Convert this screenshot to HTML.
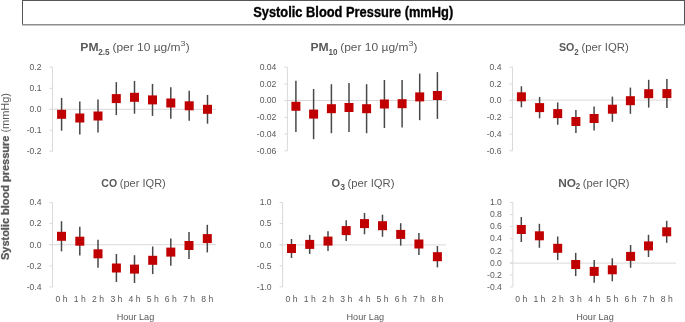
<!DOCTYPE html>
<html><head><meta charset="utf-8"><title>Systolic Blood Pressure</title>
<style>
html,body{margin:0;padding:0;background:#fff;}
body{width:685px;height:322px;overflow:hidden;}
svg{display:block;font-family:"Liberation Sans", sans-serif;will-change:transform;}
</style></head>
<body>
<svg width="685" height="322" viewBox="0 0 685 322">
<rect x="22" y="0" width="663" height="1" fill="#555"/>
<rect x="22" y="0" width="1" height="25" fill="#555"/>
<rect x="684" y="0" width="1" height="25" fill="#555"/>
<rect x="22" y="24" width="663" height="1" fill="#8e8e8e"/>
<rect x="22" y="25" width="663" height="1" fill="#c4c4c4"/>
<text x="253.2" y="16.8" font-size="14.4" font-weight="bold" fill="#000" stroke="#000" stroke-width="0.35" textLength="200" lengthAdjust="spacingAndGlyphs">Systolic Blood Pressure (mmHg)</text>
<line x1="52.5" y1="67.2" x2="52.5" y2="151.2" stroke="#d9d9d9" stroke-width="1"/>
<line x1="49.5" y1="67.2" x2="52.5" y2="67.2" stroke="#d9d9d9" stroke-width="1"/>
<text x="41.5" y="70.00" font-size="8.6" fill="#595959" text-anchor="end">0.2</text>
<line x1="49.5" y1="88.3" x2="52.5" y2="88.3" stroke="#d9d9d9" stroke-width="1"/>
<text x="41.5" y="91.10" font-size="8.6" fill="#595959" text-anchor="end">0.1</text>
<line x1="49.5" y1="109.3" x2="52.5" y2="109.3" stroke="#d9d9d9" stroke-width="1"/>
<text x="41.5" y="112.10" font-size="8.6" fill="#595959" text-anchor="end">0.0</text>
<line x1="49.5" y1="130.3" x2="52.5" y2="130.3" stroke="#d9d9d9" stroke-width="1"/>
<text x="41.5" y="133.10" font-size="8.6" fill="#595959" text-anchor="end">-0.1</text>
<line x1="49.5" y1="151.2" x2="52.5" y2="151.2" stroke="#d9d9d9" stroke-width="1"/>
<text x="41.5" y="154.00" font-size="8.6" fill="#595959" text-anchor="end">-0.2</text>
<line x1="49.5" y1="109.3" x2="216" y2="109.3" stroke="#d9d9d9" stroke-width="1"/>
<line x1="61.6" y1="97.90" x2="61.6" y2="130.70" stroke="#484848" stroke-width="1.5"/>
<line x1="79.8" y1="101.60" x2="79.8" y2="134.40" stroke="#484848" stroke-width="1.5"/>
<line x1="98" y1="99.60" x2="98" y2="132.40" stroke="#484848" stroke-width="1.5"/>
<line x1="116.3" y1="82.10" x2="116.3" y2="115.10" stroke="#484848" stroke-width="1.5"/>
<line x1="134.5" y1="80.90" x2="134.5" y2="113.70" stroke="#484848" stroke-width="1.5"/>
<line x1="152.5" y1="83.90" x2="152.5" y2="115.90" stroke="#484848" stroke-width="1.5"/>
<line x1="170.8" y1="87.20" x2="170.8" y2="118.80" stroke="#484848" stroke-width="1.5"/>
<line x1="189.2" y1="90.80" x2="189.2" y2="120.80" stroke="#484848" stroke-width="1.5"/>
<line x1="207.5" y1="94.90" x2="207.5" y2="123.70" stroke="#484848" stroke-width="1.5"/>
<rect x="57.10" y="109.80" width="9.0" height="9.0" fill="#c00000"/>
<rect x="75.30" y="113.50" width="9.0" height="9.0" fill="#c00000"/>
<rect x="93.50" y="111.50" width="9.0" height="9.0" fill="#c00000"/>
<rect x="111.80" y="94.10" width="9.0" height="9.0" fill="#c00000"/>
<rect x="130.00" y="92.80" width="9.0" height="9.0" fill="#c00000"/>
<rect x="148.00" y="95.40" width="9.0" height="9.0" fill="#c00000"/>
<rect x="166.30" y="98.50" width="9.0" height="9.0" fill="#c00000"/>
<rect x="184.70" y="101.30" width="9.0" height="9.0" fill="#c00000"/>
<rect x="203.00" y="104.80" width="9.0" height="9.0" fill="#c00000"/>
<line x1="287.4" y1="67.2" x2="287.4" y2="150.8" stroke="#d9d9d9" stroke-width="1"/>
<line x1="284.4" y1="67.2" x2="287.4" y2="67.2" stroke="#d9d9d9" stroke-width="1"/>
<text x="276.4" y="70.00" font-size="8.6" fill="#595959" text-anchor="end">0.04</text>
<line x1="284.4" y1="83.92" x2="287.4" y2="83.92" stroke="#d9d9d9" stroke-width="1"/>
<text x="276.4" y="86.72" font-size="8.6" fill="#595959" text-anchor="end">0.02</text>
<line x1="284.4" y1="100.64" x2="287.4" y2="100.64" stroke="#d9d9d9" stroke-width="1"/>
<text x="276.4" y="103.44" font-size="8.6" fill="#595959" text-anchor="end">0.00</text>
<line x1="284.4" y1="117.36" x2="287.4" y2="117.36" stroke="#d9d9d9" stroke-width="1"/>
<text x="276.4" y="120.16" font-size="8.6" fill="#595959" text-anchor="end">-0.02</text>
<line x1="284.4" y1="134.07999999999998" x2="287.4" y2="134.07999999999998" stroke="#d9d9d9" stroke-width="1"/>
<text x="276.4" y="136.88" font-size="8.6" fill="#595959" text-anchor="end">-0.04</text>
<line x1="284.4" y1="150.8" x2="287.4" y2="150.8" stroke="#d9d9d9" stroke-width="1"/>
<text x="276.4" y="153.60" font-size="8.6" fill="#595959" text-anchor="end">-0.06</text>
<line x1="284.5" y1="100.5" x2="446.6" y2="100.5" stroke="#d9d9d9" stroke-width="1"/>
<line x1="295.9" y1="80.70" x2="295.9" y2="131.90" stroke="#484848" stroke-width="1.5"/>
<line x1="313.6" y1="89.00" x2="313.6" y2="139.20" stroke="#484848" stroke-width="1.5"/>
<line x1="331.4" y1="84.20" x2="331.4" y2="133.20" stroke="#484848" stroke-width="1.5"/>
<line x1="349" y1="83.10" x2="349" y2="131.90" stroke="#484848" stroke-width="1.5"/>
<line x1="366.6" y1="84.20" x2="366.6" y2="133.20" stroke="#484848" stroke-width="1.5"/>
<line x1="384.4" y1="80.00" x2="384.4" y2="128.00" stroke="#484848" stroke-width="1.5"/>
<line x1="402.1" y1="79.90" x2="402.1" y2="127.50" stroke="#484848" stroke-width="1.5"/>
<line x1="419.7" y1="73.60" x2="419.7" y2="120.20" stroke="#484848" stroke-width="1.5"/>
<line x1="437.4" y1="72.10" x2="437.4" y2="118.90" stroke="#484848" stroke-width="1.5"/>
<rect x="291.40" y="101.80" width="9.0" height="9.0" fill="#c00000"/>
<rect x="309.10" y="109.60" width="9.0" height="9.0" fill="#c00000"/>
<rect x="326.90" y="104.20" width="9.0" height="9.0" fill="#c00000"/>
<rect x="344.50" y="103.00" width="9.0" height="9.0" fill="#c00000"/>
<rect x="362.10" y="104.20" width="9.0" height="9.0" fill="#c00000"/>
<rect x="379.90" y="99.50" width="9.0" height="9.0" fill="#c00000"/>
<rect x="397.60" y="99.20" width="9.0" height="9.0" fill="#c00000"/>
<rect x="415.20" y="92.40" width="9.0" height="9.0" fill="#c00000"/>
<rect x="432.90" y="91.00" width="9.0" height="9.0" fill="#c00000"/>
<line x1="512.5" y1="67.2" x2="512.5" y2="150.8" stroke="#d9d9d9" stroke-width="1"/>
<line x1="509.5" y1="67.2" x2="512.5" y2="67.2" stroke="#d9d9d9" stroke-width="1"/>
<text x="501.5" y="70.00" font-size="8.6" fill="#595959" text-anchor="end">0.4</text>
<line x1="509.5" y1="83.92" x2="512.5" y2="83.92" stroke="#d9d9d9" stroke-width="1"/>
<text x="501.5" y="86.72" font-size="8.6" fill="#595959" text-anchor="end">0.2</text>
<line x1="509.5" y1="100.64" x2="512.5" y2="100.64" stroke="#d9d9d9" stroke-width="1"/>
<text x="501.5" y="103.44" font-size="8.6" fill="#595959" text-anchor="end">0.0</text>
<line x1="509.5" y1="117.36" x2="512.5" y2="117.36" stroke="#d9d9d9" stroke-width="1"/>
<text x="501.5" y="120.16" font-size="8.6" fill="#595959" text-anchor="end">-0.2</text>
<line x1="509.5" y1="134.07999999999998" x2="512.5" y2="134.07999999999998" stroke="#d9d9d9" stroke-width="1"/>
<text x="501.5" y="136.88" font-size="8.6" fill="#595959" text-anchor="end">-0.4</text>
<line x1="509.5" y1="150.8" x2="512.5" y2="150.8" stroke="#d9d9d9" stroke-width="1"/>
<text x="501.5" y="153.60" font-size="8.6" fill="#595959" text-anchor="end">-0.6</text>
<line x1="509.5" y1="100.1" x2="671.6" y2="100.1" stroke="#d9d9d9" stroke-width="1"/>
<line x1="521.4" y1="86.30" x2="521.4" y2="107.30" stroke="#484848" stroke-width="1.5"/>
<line x1="539.6" y1="96.90" x2="539.6" y2="118.30" stroke="#484848" stroke-width="1.5"/>
<line x1="557.7" y1="102.40" x2="557.7" y2="124.80" stroke="#484848" stroke-width="1.5"/>
<line x1="575.9" y1="110.10" x2="575.9" y2="132.90" stroke="#484848" stroke-width="1.5"/>
<line x1="594.1" y1="106.40" x2="594.1" y2="130.60" stroke="#484848" stroke-width="1.5"/>
<line x1="612.4" y1="96.60" x2="612.4" y2="121.80" stroke="#484848" stroke-width="1.5"/>
<line x1="630.4" y1="87.60" x2="630.4" y2="113.80" stroke="#484848" stroke-width="1.5"/>
<line x1="648.7" y1="79.80" x2="648.7" y2="107.60" stroke="#484848" stroke-width="1.5"/>
<line x1="666.9" y1="79.10" x2="666.9" y2="108.10" stroke="#484848" stroke-width="1.5"/>
<rect x="516.90" y="92.30" width="9.0" height="9.0" fill="#c00000"/>
<rect x="535.10" y="103.10" width="9.0" height="9.0" fill="#c00000"/>
<rect x="553.20" y="109.10" width="9.0" height="9.0" fill="#c00000"/>
<rect x="571.40" y="117.00" width="9.0" height="9.0" fill="#c00000"/>
<rect x="589.60" y="114.00" width="9.0" height="9.0" fill="#c00000"/>
<rect x="607.90" y="104.70" width="9.0" height="9.0" fill="#c00000"/>
<rect x="625.90" y="96.20" width="9.0" height="9.0" fill="#c00000"/>
<rect x="644.20" y="89.20" width="9.0" height="9.0" fill="#c00000"/>
<rect x="662.40" y="89.10" width="9.0" height="9.0" fill="#c00000"/>
<line x1="52.5" y1="202.5" x2="52.5" y2="286.9" stroke="#d9d9d9" stroke-width="1"/>
<line x1="49.5" y1="202.5" x2="52.5" y2="202.5" stroke="#d9d9d9" stroke-width="1"/>
<text x="41.5" y="205.30" font-size="8.6" fill="#595959" text-anchor="end">0.4</text>
<line x1="49.5" y1="223.6" x2="52.5" y2="223.6" stroke="#d9d9d9" stroke-width="1"/>
<text x="41.5" y="226.40" font-size="8.6" fill="#595959" text-anchor="end">0.2</text>
<line x1="49.5" y1="244.7" x2="52.5" y2="244.7" stroke="#d9d9d9" stroke-width="1"/>
<text x="41.5" y="247.50" font-size="8.6" fill="#595959" text-anchor="end">0.0</text>
<line x1="49.5" y1="265.8" x2="52.5" y2="265.8" stroke="#d9d9d9" stroke-width="1"/>
<text x="41.5" y="268.60" font-size="8.6" fill="#595959" text-anchor="end">-0.2</text>
<line x1="49.5" y1="286.9" x2="52.5" y2="286.9" stroke="#d9d9d9" stroke-width="1"/>
<text x="41.5" y="289.70" font-size="8.6" fill="#595959" text-anchor="end">-0.4</text>
<line x1="49.5" y1="244.7" x2="216" y2="244.7" stroke="#d9d9d9" stroke-width="1"/>
<line x1="61.5" y1="221.20" x2="61.5" y2="251.40" stroke="#484848" stroke-width="1.5"/>
<line x1="79.8" y1="226.80" x2="79.8" y2="255.60" stroke="#484848" stroke-width="1.5"/>
<line x1="98" y1="239.80" x2="98" y2="267.80" stroke="#484848" stroke-width="1.5"/>
<line x1="116.4" y1="254.00" x2="116.4" y2="282.00" stroke="#484848" stroke-width="1.5"/>
<line x1="134.5" y1="255.20" x2="134.5" y2="283.00" stroke="#484848" stroke-width="1.5"/>
<line x1="152.7" y1="246.50" x2="152.7" y2="274.10" stroke="#484848" stroke-width="1.5"/>
<line x1="170.8" y1="238.50" x2="170.8" y2="265.70" stroke="#484848" stroke-width="1.5"/>
<line x1="189" y1="232.00" x2="189" y2="259.00" stroke="#484848" stroke-width="1.5"/>
<line x1="207.3" y1="224.80" x2="207.3" y2="252.40" stroke="#484848" stroke-width="1.5"/>
<rect x="57.00" y="231.80" width="9.0" height="9.0" fill="#c00000"/>
<rect x="75.30" y="236.70" width="9.0" height="9.0" fill="#c00000"/>
<rect x="93.50" y="249.30" width="9.0" height="9.0" fill="#c00000"/>
<rect x="111.90" y="263.50" width="9.0" height="9.0" fill="#c00000"/>
<rect x="130.00" y="264.60" width="9.0" height="9.0" fill="#c00000"/>
<rect x="148.20" y="255.80" width="9.0" height="9.0" fill="#c00000"/>
<rect x="166.30" y="247.60" width="9.0" height="9.0" fill="#c00000"/>
<rect x="184.50" y="241.00" width="9.0" height="9.0" fill="#c00000"/>
<rect x="202.80" y="234.10" width="9.0" height="9.0" fill="#c00000"/>
<text x="61.5" y="302.2" font-size="8.6" fill="#595959" text-anchor="middle">0 h</text>
<text x="79.8" y="302.2" font-size="8.6" fill="#595959" text-anchor="middle">1 h</text>
<text x="98" y="302.2" font-size="8.6" fill="#595959" text-anchor="middle">2 h</text>
<text x="116.4" y="302.2" font-size="8.6" fill="#595959" text-anchor="middle">3 h</text>
<text x="134.5" y="302.2" font-size="8.6" fill="#595959" text-anchor="middle">4 h</text>
<text x="152.7" y="302.2" font-size="8.6" fill="#595959" text-anchor="middle">5 h</text>
<text x="170.8" y="302.2" font-size="8.6" fill="#595959" text-anchor="middle">6 h</text>
<text x="189" y="302.2" font-size="8.6" fill="#595959" text-anchor="middle">7 h</text>
<text x="207.3" y="302.2" font-size="8.6" fill="#595959" text-anchor="middle">8 h</text>
<line x1="282.6" y1="202.5" x2="282.6" y2="286.9" stroke="#d9d9d9" stroke-width="1"/>
<line x1="279.6" y1="202.5" x2="282.6" y2="202.5" stroke="#d9d9d9" stroke-width="1"/>
<text x="271.6" y="205.30" font-size="8.6" fill="#595959" text-anchor="end">1.0</text>
<line x1="279.6" y1="223.6" x2="282.6" y2="223.6" stroke="#d9d9d9" stroke-width="1"/>
<text x="271.6" y="226.40" font-size="8.6" fill="#595959" text-anchor="end">0.5</text>
<line x1="279.6" y1="244.7" x2="282.6" y2="244.7" stroke="#d9d9d9" stroke-width="1"/>
<text x="271.6" y="247.50" font-size="8.6" fill="#595959" text-anchor="end">0.0</text>
<line x1="279.6" y1="265.8" x2="282.6" y2="265.8" stroke="#d9d9d9" stroke-width="1"/>
<text x="271.6" y="268.60" font-size="8.6" fill="#595959" text-anchor="end">-0.5</text>
<line x1="279.6" y1="286.9" x2="282.6" y2="286.9" stroke="#d9d9d9" stroke-width="1"/>
<text x="271.6" y="289.70" font-size="8.6" fill="#595959" text-anchor="end">-1.0</text>
<line x1="279.5" y1="244.9" x2="446.2" y2="244.9" stroke="#d9d9d9" stroke-width="1"/>
<line x1="291.5" y1="239.00" x2="291.5" y2="258.00" stroke="#484848" stroke-width="1.5"/>
<line x1="309.7" y1="234.90" x2="309.7" y2="253.90" stroke="#484848" stroke-width="1.5"/>
<line x1="328" y1="231.20" x2="328" y2="251.00" stroke="#484848" stroke-width="1.5"/>
<line x1="346.2" y1="220.20" x2="346.2" y2="241.00" stroke="#484848" stroke-width="1.5"/>
<line x1="364.5" y1="212.90" x2="364.5" y2="234.30" stroke="#484848" stroke-width="1.5"/>
<line x1="382.5" y1="214.70" x2="382.5" y2="236.70" stroke="#484848" stroke-width="1.5"/>
<line x1="400.7" y1="223.20" x2="400.7" y2="245.60" stroke="#484848" stroke-width="1.5"/>
<line x1="418.9" y1="233.10" x2="418.9" y2="254.90" stroke="#484848" stroke-width="1.5"/>
<line x1="437.4" y1="246.00" x2="437.4" y2="267.40" stroke="#484848" stroke-width="1.5"/>
<rect x="287.00" y="244.00" width="9.0" height="9.0" fill="#c00000"/>
<rect x="305.20" y="239.90" width="9.0" height="9.0" fill="#c00000"/>
<rect x="323.50" y="236.60" width="9.0" height="9.0" fill="#c00000"/>
<rect x="341.70" y="226.10" width="9.0" height="9.0" fill="#c00000"/>
<rect x="360.00" y="219.10" width="9.0" height="9.0" fill="#c00000"/>
<rect x="378.00" y="221.20" width="9.0" height="9.0" fill="#c00000"/>
<rect x="396.20" y="229.90" width="9.0" height="9.0" fill="#c00000"/>
<rect x="414.40" y="239.50" width="9.0" height="9.0" fill="#c00000"/>
<rect x="432.90" y="252.20" width="9.0" height="9.0" fill="#c00000"/>
<text x="291.5" y="302.2" font-size="8.6" fill="#595959" text-anchor="middle">0 h</text>
<text x="309.7" y="302.2" font-size="8.6" fill="#595959" text-anchor="middle">1 h</text>
<text x="328" y="302.2" font-size="8.6" fill="#595959" text-anchor="middle">2 h</text>
<text x="346.2" y="302.2" font-size="8.6" fill="#595959" text-anchor="middle">3 h</text>
<text x="364.5" y="302.2" font-size="8.6" fill="#595959" text-anchor="middle">4 h</text>
<text x="382.5" y="302.2" font-size="8.6" fill="#595959" text-anchor="middle">5 h</text>
<text x="400.7" y="302.2" font-size="8.6" fill="#595959" text-anchor="middle">6 h</text>
<text x="418.9" y="302.2" font-size="8.6" fill="#595959" text-anchor="middle">7 h</text>
<text x="437.4" y="302.2" font-size="8.6" fill="#595959" text-anchor="middle">8 h</text>
<line x1="512.9" y1="202.5" x2="512.9" y2="286.92" stroke="#d9d9d9" stroke-width="1"/>
<line x1="509.9" y1="202.5" x2="512.9" y2="202.5" stroke="#d9d9d9" stroke-width="1"/>
<text x="501.9" y="205.30" font-size="8.6" fill="#595959" text-anchor="end">1.0</text>
<line x1="509.9" y1="214.56" x2="512.9" y2="214.56" stroke="#d9d9d9" stroke-width="1"/>
<text x="501.9" y="217.36" font-size="8.6" fill="#595959" text-anchor="end">0.8</text>
<line x1="509.9" y1="226.62" x2="512.9" y2="226.62" stroke="#d9d9d9" stroke-width="1"/>
<text x="501.9" y="229.42" font-size="8.6" fill="#595959" text-anchor="end">0.6</text>
<line x1="509.9" y1="238.68" x2="512.9" y2="238.68" stroke="#d9d9d9" stroke-width="1"/>
<text x="501.9" y="241.48" font-size="8.6" fill="#595959" text-anchor="end">0.4</text>
<line x1="509.9" y1="250.74" x2="512.9" y2="250.74" stroke="#d9d9d9" stroke-width="1"/>
<text x="501.9" y="253.54" font-size="8.6" fill="#595959" text-anchor="end">0.2</text>
<line x1="509.9" y1="262.8" x2="512.9" y2="262.8" stroke="#d9d9d9" stroke-width="1"/>
<text x="501.9" y="265.60" font-size="8.6" fill="#595959" text-anchor="end">0.0</text>
<line x1="509.9" y1="274.86" x2="512.9" y2="274.86" stroke="#d9d9d9" stroke-width="1"/>
<text x="501.9" y="277.66" font-size="8.6" fill="#595959" text-anchor="end">-0.2</text>
<line x1="509.9" y1="286.92" x2="512.9" y2="286.92" stroke="#d9d9d9" stroke-width="1"/>
<text x="501.9" y="289.72" font-size="8.6" fill="#595959" text-anchor="end">-0.4</text>
<line x1="510" y1="263.1" x2="676" y2="263.1" stroke="#d9d9d9" stroke-width="1"/>
<line x1="521.3" y1="217.00" x2="521.3" y2="242.00" stroke="#484848" stroke-width="1.5"/>
<line x1="539.4" y1="223.80" x2="539.4" y2="247.80" stroke="#484848" stroke-width="1.5"/>
<line x1="557.7" y1="236.50" x2="557.7" y2="260.10" stroke="#484848" stroke-width="1.5"/>
<line x1="575.7" y1="252.90" x2="575.7" y2="276.10" stroke="#484848" stroke-width="1.5"/>
<line x1="594.2" y1="260.00" x2="594.2" y2="282.80" stroke="#484848" stroke-width="1.5"/>
<line x1="612.3" y1="258.30" x2="612.3" y2="281.30" stroke="#484848" stroke-width="1.5"/>
<line x1="630.6" y1="245.00" x2="630.6" y2="267.80" stroke="#484848" stroke-width="1.5"/>
<line x1="648.5" y1="234.80" x2="648.5" y2="257.00" stroke="#484848" stroke-width="1.5"/>
<line x1="666.7" y1="220.80" x2="666.7" y2="242.80" stroke="#484848" stroke-width="1.5"/>
<rect x="516.80" y="225.00" width="9.0" height="9.0" fill="#c00000"/>
<rect x="534.90" y="231.30" width="9.0" height="9.0" fill="#c00000"/>
<rect x="553.20" y="243.80" width="9.0" height="9.0" fill="#c00000"/>
<rect x="571.20" y="260.00" width="9.0" height="9.0" fill="#c00000"/>
<rect x="589.70" y="266.90" width="9.0" height="9.0" fill="#c00000"/>
<rect x="607.80" y="265.30" width="9.0" height="9.0" fill="#c00000"/>
<rect x="626.10" y="251.90" width="9.0" height="9.0" fill="#c00000"/>
<rect x="644.00" y="241.40" width="9.0" height="9.0" fill="#c00000"/>
<rect x="662.20" y="227.30" width="9.0" height="9.0" fill="#c00000"/>
<text x="521.3" y="302.2" font-size="8.6" fill="#595959" text-anchor="middle">0 h</text>
<text x="539.4" y="302.2" font-size="8.6" fill="#595959" text-anchor="middle">1 h</text>
<text x="557.7" y="302.2" font-size="8.6" fill="#595959" text-anchor="middle">2 h</text>
<text x="575.7" y="302.2" font-size="8.6" fill="#595959" text-anchor="middle">3 h</text>
<text x="594.2" y="302.2" font-size="8.6" fill="#595959" text-anchor="middle">4 h</text>
<text x="612.3" y="302.2" font-size="8.6" fill="#595959" text-anchor="middle">5 h</text>
<text x="630.6" y="302.2" font-size="8.6" fill="#595959" text-anchor="middle">6 h</text>
<text x="648.5" y="302.2" font-size="8.6" fill="#595959" text-anchor="middle">7 h</text>
<text x="666.7" y="302.2" font-size="8.6" fill="#595959" text-anchor="middle">8 h</text>
<text x="135.5" y="319.5" font-size="9.7" fill="#595959" text-anchor="middle" textLength="37.6" lengthAdjust="spacingAndGlyphs">Hour Lag</text>
<text x="365.3" y="319.5" font-size="9.7" fill="#595959" text-anchor="middle" textLength="37.6" lengthAdjust="spacingAndGlyphs">Hour Lag</text>
<text x="595" y="319.5" font-size="9.7" fill="#595959" text-anchor="middle" textLength="37.6" lengthAdjust="spacingAndGlyphs">Hour Lag</text>
<text x="80.3" y="51.1" font-size="11.7" fill="#595959" font-weight="bold" textLength="18.2" lengthAdjust="spacingAndGlyphs">PM</text>
<text x="98.2" y="54.7" font-size="8.8" fill="#595959" font-weight="bold" textLength="11.4" lengthAdjust="spacingAndGlyphs">2.5</text>
<text x="112.4" y="51.1" font-size="11.7" fill="#595959" textLength="68.2" lengthAdjust="spacingAndGlyphs">(per 10 µg/m</text>
<text x="180.6" y="45.9" font-size="7.5" fill="#595959" textLength="5.0" lengthAdjust="spacingAndGlyphs">3</text>
<text x="185.8" y="51.1" font-size="11.7" fill="#595959" textLength="3.9" lengthAdjust="spacingAndGlyphs">)</text>
<text x="310.5" y="51.1" font-size="11.7" fill="#595959" font-weight="bold" textLength="18.2" lengthAdjust="spacingAndGlyphs">PM</text>
<text x="328.4" y="54.6" font-size="8.8" fill="#595959" font-weight="bold" textLength="9.0" lengthAdjust="spacingAndGlyphs">10</text>
<text x="340.2" y="51.1" font-size="11.7" fill="#595959" textLength="68.2" lengthAdjust="spacingAndGlyphs">(per 10 µg/m</text>
<text x="408.4" y="45.9" font-size="7.5" fill="#595959" textLength="5.0" lengthAdjust="spacingAndGlyphs">3</text>
<text x="413.4" y="51.1" font-size="11.7" fill="#595959" textLength="3.9" lengthAdjust="spacingAndGlyphs">)</text>
<text x="559.0" y="51.1" font-size="11.7" fill="#595959" font-weight="bold" textLength="15.4" lengthAdjust="spacingAndGlyphs">SO</text>
<text x="574.2" y="54.6" font-size="8.8" fill="#595959" font-weight="bold" textLength="4.4" lengthAdjust="spacingAndGlyphs">2</text>
<text x="581.5" y="51.1" font-size="11.7" fill="#595959" textLength="47.2" lengthAdjust="spacingAndGlyphs">(per IQR)</text>
<text x="101.3" y="186.6" font-size="11.7" fill="#595959" font-weight="bold" textLength="15.8" lengthAdjust="spacingAndGlyphs">CO</text>
<text x="119.8" y="186.6" font-size="11.7" fill="#595959" textLength="46.0" lengthAdjust="spacingAndGlyphs">(per IQR)</text>
<text x="331.5" y="186.6" font-size="11.7" fill="#595959" font-weight="bold" textLength="8.6" lengthAdjust="spacingAndGlyphs">O</text>
<text x="340.2" y="189.6" font-size="8.8" fill="#595959" font-weight="bold" textLength="4.8" lengthAdjust="spacingAndGlyphs">3</text>
<text x="347.4" y="186.6" font-size="11.7" fill="#595959" textLength="47.1" lengthAdjust="spacingAndGlyphs">(per IQR)</text>
<text x="558.3" y="186.6" font-size="11.7" fill="#595959" font-weight="bold" textLength="17.8" lengthAdjust="spacingAndGlyphs">NO</text>
<text x="575.8" y="189.4" font-size="8.8" fill="#595959" font-weight="bold" textLength="4.4" lengthAdjust="spacingAndGlyphs">2</text>
<text x="582.8" y="186.6" font-size="11.7" fill="#595959" textLength="46.7" lengthAdjust="spacingAndGlyphs">(per IQR)</text>
<text transform="translate(8.8,260) rotate(-90)" font-size="11.7" fill="#595959" textLength="167" lengthAdjust="spacingAndGlyphs"><tspan font-weight="bold" stroke="#595959" stroke-width="0.3">Systolic blood pressure</tspan> (mmHg)</text>
</svg>
</body></html>
